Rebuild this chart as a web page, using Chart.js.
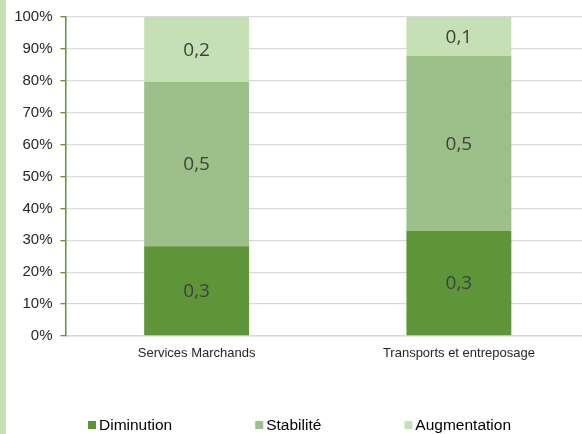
<!DOCTYPE html>
<html>
<head>
<meta charset="utf-8">
<script src="https://cdn.jsdelivr.net/npm/chart.js@4/dist/chart.umd.min.js"></script>
<style>
    html, body { margin: 0; padding: 0; overflow: hidden; background: #fff; }
    #wrap { position: absolute; left: 0; top: 0; width: 590px; height: 434px; }
    #strip { position: absolute; left: 0; top: 0; width: 6px; height: 434px; background: #c5e0b4; }
</style>
</head>
<body>
<div id="wrap"><canvas id="effectifChart"></canvas></div>
<div id="strip"></div>
<script>
const categories = ['Services Marchands', 'Transports et entreposage'];
const seriesNames = ['Diminution', 'Stabilité', 'Augmentation'];
const diminution = [0.281, 0.330];
const stabilite = [0.516, 0.548];
const augmentation = [0.203, 0.122];
const yTicks = [0, 0.1, 0.2, 0.3, 0.4, 0.5, 0.6, 0.7, 0.8, 0.9, 1];

const colors = ['#5f9539', '#9dc08b', '#c5e0b4'];
const mainFont = "'Liberation Sans', Arial, sans-serif";

function formatValue(v) {
    return v.toFixed(1).replace('.', ',');
}

// value written in the middle of each stacked segment
const segmentLabels = {
    id: 'segmentLabels',
    afterDatasetsDraw(chart) {
        const ctx = chart.ctx;
        ctx.save();
        ctx.font = "19px 'Open Sans', sans-serif";
        ctx.fillStyle = '#404040';
        ctx.textAlign = 'center';
        ctx.textBaseline = 'middle';
        chart.data.datasets.forEach((ds, i) => {
            chart.getDatasetMeta(i).data.forEach((bar, j) => {
                const { x, y, base } = bar.getProps(['x', 'y', 'base'], true);
                ctx.fillText(formatValue(ds.data[j]), x, (y + base) / 2 + 1);
            });
        });
        ctx.restore();
    }
};

// legend row under the axis
const bottomLegend = {
    id: 'bottomLegend',
    afterDraw(chart) {
        const ctx = chart.ctx;
        ctx.save();
        ctx.font = '15.5px ' + mainFont;
        ctx.textBaseline = 'middle';
        let x = 88;
        const y = 425;
        chart.data.datasets.forEach(ds => {
            ctx.fillStyle = ds.backgroundColor;
            ctx.fillRect(x, y - 4, 8, 8);
            ctx.fillStyle = '#000';
            ctx.fillText(ds.label, x + 11, y + 1);
            x += 11 + ctx.measureText(ds.label).width + 83;
        });
        ctx.restore();
    }
};

const ctx = document.getElementById('effectifChart').getContext('2d');
new Chart(ctx, {
    type: 'bar',
    data: {
        labels: categories,
        datasets: [diminution, stabilite, augmentation].map((values, i) => ({
            label: seriesNames[i],
            data: values,
            backgroundColor: colors[i],
            borderWidth: 0,
            barPercentage: 0.8,
            categoryPercentage: 0.5
        }))
    },
    options: {
        responsive: true,
        maintainAspectRatio: false,
        animation: false,
        layout: { padding: { top: 14, right: 0, bottom: 0, left: 0 } },
        plugins: {
            legend: { display: false },
            tooltip: { enabled: false }
        },
        scales: {
            x: {
                stacked: true,
                grid: { display: false },
                border: { color: '#d9d9d9', width: 1.5 },
                ticks: {
                    color: '#262626',
                    padding: 2,
                    font: { family: mainFont, size: 13 }
                },
                afterFit(scale) { scale.height = 98; }
            },
            y: {
                stacked: true,
                min: 0,
                max: 1,
                afterBuildTicks(scale) {
                    scale.ticks = yTicks.map(v => ({ value: v }));
                },
                grid: {
                    color: '#d9d9d9',
                    lineWidth: 1.3,
                    tickColor: '#5f9539',
                    tickLength: 5
                },
                border: { color: '#5f9539', width: 1.5 },
                ticks: {
                    color: '#262626',
                    padding: 8,
                    font: { family: mainFont, size: 15 },
                    callback: v => Math.round(v * 100) + '%'
                },
                afterFit(scale) { scale.width = 65.5; }
            }
        }
    },
    plugins: [segmentLabels, bottomLegend]
});
</script>
</body>
</html>
